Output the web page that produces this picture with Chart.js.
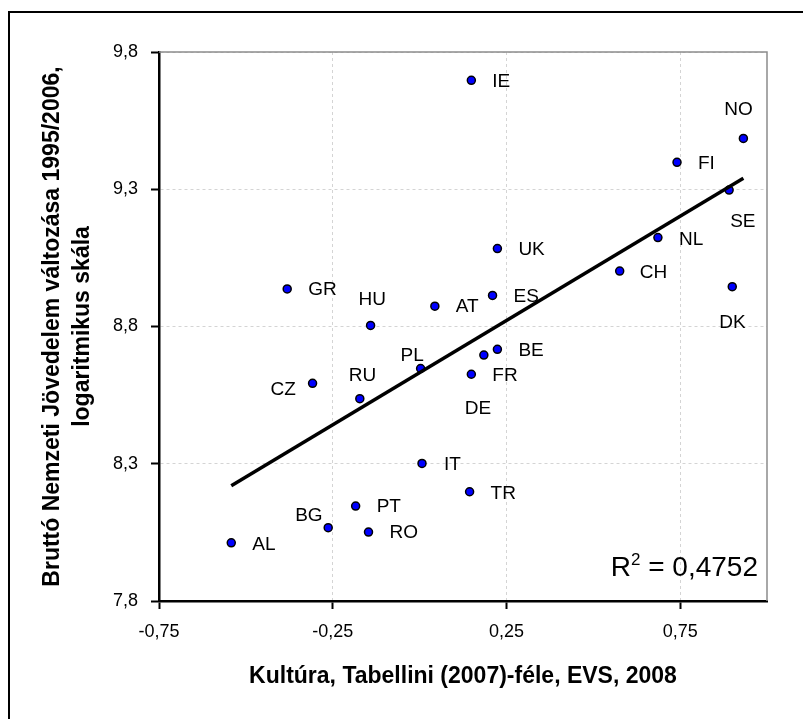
<!DOCTYPE html>
<html>
<head>
<meta charset="utf-8">
<script src="https://cdn.jsdelivr.net/npm/chart.js@4/dist/chart.umd.min.js"></script>
<style>
  html, body { margin: 0; padding: 0; background: #ffffff; }
  #wrap { width: 803px; height: 719px; position: relative; }
</style>
</head>
<body>
<div id="wrap"><canvas id="c" width="803" height="719"></canvas></div>
<script>
// ---- data ----
const countries = ['IE','NO','FI','SE','NL','UK','CH','DK','ES','GR','AT','HU','CZ','RU','PL','IT','PT','BG','RO','AL','BE','FR','DE','TR'];
const culture = [0.149, 0.932, 0.741, 0.891, 0.686, 0.224, 0.576, 0.900, 0.210, -0.381, 0.044, -0.141, -0.308, -0.172, 0.003, 0.007, -0.184, -0.263, -0.147, -0.542, 0.224, 0.149, 0.185, 0.144];
const gniLog = [9.697, 9.485, 9.398, 9.297, 9.124, 9.084, 9.002, 8.945, 8.913, 8.937, 8.874, 8.804, 8.593, 8.537, 8.647, 8.301, 8.146, 8.067, 8.051, 8.012, 8.717, 8.626, 8.696, 8.198];
const xTickValues = [-0.75, -0.25, 0.25, 0.75];
const xTickLabels = ['-0,75', '-0,25', '0,25', '0,75'];
const yTickValues = [7.8, 8.3, 8.8, 9.3, 9.8];
const yTickLabels = ['7,8', '8,3', '8,8', '9,3', '9,8'];
const rSquaredText = '0,4752';
const xTitle = 'Kultúra, Tabellini (2007)-féle, EVS, 2008';
const yTitle = ['Bruttó Nemzeti Jövedelem változása 1995/2006,', 'logaritmikus skála'];

// label placement (pixel offsets from the marker: left edge, vertical centre)
const labelDx = [21, -19, 21, 1, 21, 21, 20, -13, 21, 21, 21, -12, -42, -11, -20, 22, 21, -33, 21, 21, 21, 21, -19, 21];
const labelDy = [1, -29, 1, 32, 2, 1, 2, 36, 1, 1, 1, -26, 6, -23, -13, 1, 1, -12, 1, 2, 1, 2, 54, 2];

// ---- linear trend from the data ----
const n = culture.length;
const mx = culture.reduce((a, b) => a + b, 0) / n;
const my = gniLog.reduce((a, b) => a + b, 0) / n;
let sxy = 0, sxx = 0;
for (let i = 0; i < n; i++) { sxy += (culture[i] - mx) * (gniLog[i] - my); sxx += (culture[i] - mx) ** 2; }
const slope = sxy / sxx, intercept = my - slope * mx;
const xMin = Math.min(...culture), xMax = Math.max(...culture);
const trend = [{ x: xMin, y: intercept + slope * xMin }, { x: xMax, y: intercept + slope * xMax }];

const FONT = "'Liberation Sans', Arial, sans-serif";

const decor = {
  id: 'decor',
  beforeDraw(chart) {
    const ctx = chart.ctx;
    ctx.save();
    ctx.fillStyle = '#ffffff';
    ctx.fillRect(0, 0, chart.width, chart.height);
    ctx.restore();
  },
  afterDatasetsDraw(chart) {
    const ctx = chart.ctx;
    const a = chart.chartArea;
    ctx.save();
    // plot frame top and right
    ctx.strokeStyle = '#8c8c8c';
    ctx.lineWidth = 1.5;
    ctx.beginPath();
    ctx.moveTo(a.left, a.top);
    ctx.lineTo(a.right, a.top);
    ctx.lineTo(a.right, a.bottom);
    ctx.stroke();
    // outer frame
    ctx.strokeStyle = '#000000';
    ctx.lineWidth = 2;
    ctx.strokeRect(9, 12, 830, 760);
    // point labels
    const meta = chart.getDatasetMeta(1);
    ctx.fillStyle = '#000000';
    ctx.font = '19px ' + FONT;
    ctx.textAlign = 'left';
    ctx.textBaseline = 'middle';
    meta.data.forEach((pt, i) => {
      ctx.fillText(countries[i], pt.x + labelDx[i], pt.y + labelDy[i]);
    });
    // R^2 annotation
    const right = a.right - 9;
    const base = a.bottom - 25;
    ctx.textBaseline = 'alphabetic';
    ctx.font = '28px ' + FONT;
    const rest = ' = ' + rSquaredText;
    const wRest = ctx.measureText(rest).width;
    const wR = ctx.measureText('R').width;
    ctx.font = '17px ' + FONT;
    const w2 = ctx.measureText('2').width;
    let x0 = right - wRest - w2 - wR;
    ctx.font = '28px ' + FONT;
    ctx.fillText('R', x0, base);
    ctx.font = '17px ' + FONT;
    ctx.fillText('2', x0 + wR, base - 11);
    ctx.font = '28px ' + FONT;
    ctx.fillText(rest, x0 + wR + w2, base);
    ctx.restore();
  }
};

new Chart(document.getElementById('c'), {
  type: 'scatter',
  data: {
    datasets: [
      {
        type: 'line',
        data: trend,
        borderColor: '#000000',
        borderWidth: 3.5,
        pointRadius: 0,
        fill: false
      },
      {
        data: countries.map((c, i) => ({ x: culture[i], y: gniLog[i] })),
        backgroundColor: '#0000ff',
        borderColor: '#000000',
        borderWidth: 1.5,
        pointRadius: 4,
        pointHoverRadius: 4
      }
    ]
  },
  options: {
    responsive: false,
    animation: false,
    events: [],
    layout: { padding: { top: 52, right: 36, bottom: 0, left: 0 } },
    plugins: { legend: { display: false }, tooltip: { enabled: false } },
    scales: {
      x: {
        type: 'linear',
        min: -0.75,
        max: 1.0,
        afterBuildTicks: s => { s.ticks = xTickValues.map(v => ({ value: v })); },
        afterFit: s => { s.height = 118; },
        ticks: {
          callback: (v, i) => xTickLabels[i],
          color: '#000000',
          font: { family: FONT, size: 18 },
          padding: 12,
          maxRotation: 0,
          autoSkip: false
        },
        grid: {
          color: '#d4d4d4',
          lineWidth: 1,
          tickColor: '#000000',
          tickWidth: 2,
          tickLength: 8
        },
        border: { display: true, color: '#000000', width: 2.5, dash: [3, 3] },
        title: {
          display: true,
          text: xTitle,
          color: '#000000',
          font: { family: FONT, size: 23, weight: 'bold', lineHeight: 1.2 },
          padding: { top: 0, bottom: 29 }
        }
      },
      y: {
        type: 'linear',
        min: 7.8,
        max: 9.8,
        afterBuildTicks: s => { s.ticks = yTickValues.map(v => ({ value: v })); },
        afterFit: s => { s.width = 159; },
        ticks: {
          callback: (v, i) => yTickLabels[i],
          color: '#000000',
          font: { family: FONT, size: 18 },
          padding: 13,
          autoSkip: false
        },
        grid: {
          color: '#d4d4d4',
          lineWidth: 1,
          tickColor: '#000000',
          tickWidth: 2,
          tickLength: 8
        },
        border: { display: true, color: '#000000', width: 2.5, dash: [3, 3] },
        title: {
          display: true,
          text: yTitle,
          color: '#000000',
          font: { family: FONT, size: 23, weight: 'bold', lineHeight: 1.3 },
          padding: { top: 38, bottom: 0 }
        }
      }
    }
  },
  plugins: [decor]
});
</script>
</body>
</html>
